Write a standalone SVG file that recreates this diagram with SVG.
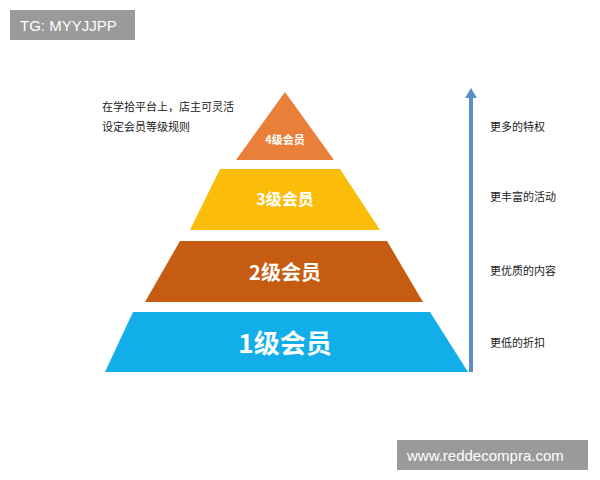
<svg xmlns="http://www.w3.org/2000/svg" width="600" height="480" viewBox="0 0 600 480">
<style>
.cn{font-family:"Noto Sans CJK SC","Noto Sans",sans-serif}
.side{font-size:11px;fill:#222}
.lbl{fill:#fff;font-weight:bold;text-anchor:middle}
.wm{font-family:"Liberation Sans",Arial,sans-serif;fill:#fff;font-size:15px}
</style>
<rect width="600" height="480" fill="#fff"/>
<rect x="10" y="10" width="125" height="30" fill="#9a9a9a"/>
<text class="wm" x="20" y="31">TG: MYYJJPP</text>
<rect x="397" y="440" width="191" height="30" fill="#9a9a9a"/>
<text class="wm" x="407" y="461">www.reddecompra.com</text>
<text class="cn side" x="102" y="111">在学拾平台上，店主可灵活</text>
<text class="cn side" x="102" y="131">设定会员等级规则</text>
<g id="level4"><polygon points="285,92 334,160 236,160" fill="#e8803a"/><text class="cn lbl" x="285" y="144" font-size="11">4级会员</text></g>
<g id="level3"><polygon points="220,169 340,169 380,230 190,230" fill="#fbbd0a"/><text class="cn lbl" x="285" y="205" font-size="16">3级会员</text></g>
<g id="level2"><polygon points="180,241 387,241 423,302 145,302" fill="#c55c12"/><text class="cn lbl" x="285" y="280" font-size="20">2级会员</text></g>
<g id="level1"><polygon points="133,312 430,312 468,372 105,372" fill="#11aeea"/><text class="cn lbl" x="285" y="353" font-size="26">1级会员</text></g>
<g id="connectors">
<line x1="471" y1="96" x2="471" y2="372" stroke="#5b8fc7" stroke-width="4"/>
<polygon points="471,88 465,98 477,98" fill="#5b8fc7"/>
</g>
<text class="cn side" x="490" y="131">更多的特权</text>
<text class="cn side" x="490" y="201">更丰富的活动</text>
<text class="cn side" x="490" y="275">更优质的内容</text>
<text class="cn side" x="490" y="347">更低的折扣</text>
</svg>
